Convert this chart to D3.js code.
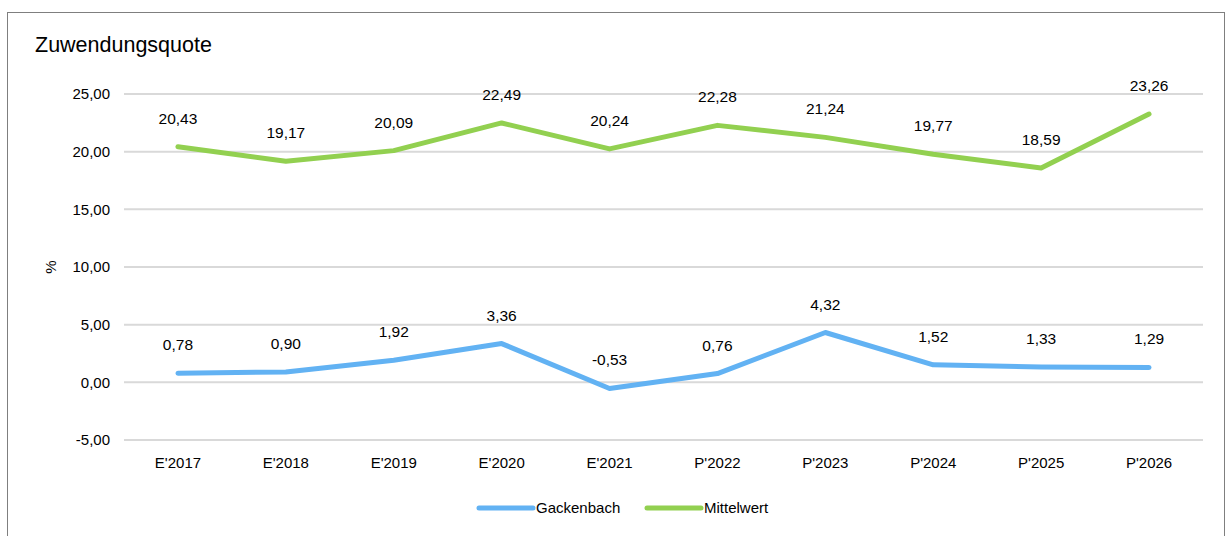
<!DOCTYPE html>
<html>
<head>
<meta charset="utf-8">
<script src="https://cdn.jsdelivr.net/npm/d3@7"></script>
<style>
  body { margin: 0; background: #fff; }
  text { font-family: "Liberation Sans", Arial, sans-serif; fill: #000; }
</style>
</head>
<body>
<div id="chart"></div>
<script>
// data
var categories = ["E'2017", "E'2018", "E'2019", "E'2020", "E'2021", "P'2022", "P'2023", "P'2024", "P'2025", "P'2026"];
var gackenbach = [0.78, 0.90, 1.92, 3.36, -0.53, 0.76, 4.32, 1.52, 1.33, 1.29];
var mittelwert = [20.43, 19.17, 20.09, 22.49, 20.24, 22.28, 21.24, 19.77, 18.59, 23.26];
var yTicks = [-5, 0, 5, 10, 15, 20, 25];
var seriesNames = ["Gackenbach", "Mittelwert"];
var seriesColors = ["#62b2f3", "#92d050"];

var svgWidth = 1231, svgHeight = 536;
var margin = { top: 94, right: 28, bottom: 96, left: 124 };
var width = svgWidth - margin.left - margin.right;
var height = svgHeight - margin.top - margin.bottom;

// german number format with plain hyphen minus
var fmt = d => d3.format(".2f")(d).replace(".", ",").replace("\u2212", "-");

var svg = d3.select("#chart").append("svg")
  .attr("width", svgWidth)
  .attr("height", svgHeight);

// outer frame
svg.append("rect")
  .attr("x", 7.5).attr("y", 12.5)
  .attr("width", 1217).attr("height", 540)
  .attr("fill", "none").attr("stroke", "#7f7f7f").attr("stroke-width", 1);

var g = svg.append("g").attr("transform", `translate(${margin.left}, ${margin.top})`);

var x = d3.scaleBand().domain(categories).range([0, width]);
var y = d3.scaleLinear().domain([-5, 25]).range([height, 0]);

// gridlines
g.selectAll(".grid").data(yTicks).enter().append("line")
  .attr("x1", 0).attr("x2", width)
  .attr("y1", d => y(d)).attr("y2", d => y(d))
  .attr("stroke", "#d9d9d9").attr("stroke-width", 2);

// y axis labels
var yAxis = d3.axisLeft(y).tickValues(yTicks).tickSize(0).tickPadding(14)
  .tickFormat(fmt);
g.append("g").call(yAxis)
  .call(s => s.select(".domain").remove())
  .selectAll("text").attr("font-size", "15px");

// x axis labels
var xAxis = d3.axisBottom(x).tickSize(0).tickPadding(17);
g.append("g").attr("transform", `translate(0, ${height})`).call(xAxis)
  .call(s => s.select(".domain").remove())
  .selectAll("text").attr("font-size", "15px");

// lines
var allSeries = [gackenbach, mittelwert];
var line = d3.line()
  .x((d, i) => x(categories[i]) + x.bandwidth() / 2)
  .y(d => y(d));

allSeries.forEach(function(vals, si) {
  g.append("path").datum(vals)
    .attr("d", line)
    .attr("fill", "none")
    .attr("stroke", seriesColors[si])
    .attr("stroke-width", 5)
    .attr("stroke-linecap", "round")
    .attr("stroke-linejoin", "round");

  g.selectAll(null).data(vals).enter().append("text")
    .attr("x", (d, i) => x(categories[i]) + x.bandwidth() / 2)
    .attr("y", d => y(d) - 23)
    .attr("text-anchor", "middle")
    .attr("font-size", "15.5px")
    .text(fmt);
});

// title
svg.append("text").attr("x", 35).attr("y", 52)
  .attr("font-size", "21.5px").text("Zuwendungsquote");

// y axis title
svg.append("text")
  .attr("transform", "translate(56, 267) rotate(-90)")
  .attr("text-anchor", "middle")
  .attr("font-size", "15px").text("%");

// legend
var legendItems = [{ x: 479 }, { x: 647 }];
legendItems.forEach(function(item, i) {
  svg.append("line")
    .attr("x1", item.x).attr("x2", item.x + 54)
    .attr("y1", 508).attr("y2", 508)
    .attr("stroke", seriesColors[i]).attr("stroke-width", 5)
    .attr("stroke-linecap", "round");
  svg.append("text")
    .attr("x", item.x + 57).attr("y", 513)
    .attr("font-size", "15px")
    .text(seriesNames[i]);
});
</script>
</body>
</html>
